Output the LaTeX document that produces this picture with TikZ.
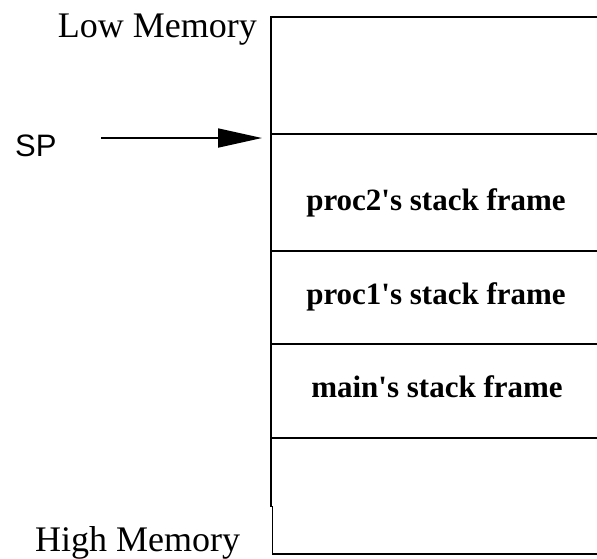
\documentclass[tikz,border=0pt]{standalone}
\usepackage{fontspec}
\setmainfont{Liberation Serif}
\newfontfamily\arialfont{Liberation Sans}
\usetikzlibrary{arrows.meta}
\tikzset{
  rule/.style={line width=1.6pt},
  memlabel/.style={font=\fontsize{36}{40}\selectfont, inner sep=0pt},
  framelabel/.style={font=\fontsize{31}{36}\selectfont\bfseries, inner sep=0pt, anchor=base},
  splabel/.style={font=\arialfont\fontsize{31}{36}\selectfont, inner sep=0pt, anchor=base west},
  sparrow/.style={line width=1.8pt, -{Triangle[length=44pt,width=19pt]}}
}
\begin{document}
\begin{tikzpicture}[x=1pt,y=-1pt]
\useasboundingbox (0,0) rectangle (597,558);
\clip (0,0) rectangle (597,558);
% horizontal rules
\draw[rule] (271,17) -- (600,17);
\draw[rule] (271,134) -- (600,134);
\draw[rule] (271,251) -- (600,251);
\draw[rule] (271,344) -- (600,344);
\draw[rule] (271,438) -- (600,438);
\draw[rule] (272,554) -- (600,554);
% left edge
\draw[rule] (271,16.2) -- (271,507);
\draw[line width=1pt] (272,506) -- (272,554.5);
% labels
\node[memlabel, anchor=base east] (low) at (257,37) {Low Memory};
\node[memlabel, anchor=base west] (high) at (35,551) {High Memory};
\node[splabel] (sp) at (15,156) {SP};
\node[framelabel] (p2) at (436,210) {proc2\textquotesingle s stack frame};
\node[framelabel] (p1) at (436,304) {proc1\textquotesingle s stack frame};
\node[framelabel] (mn) at (437,397) {main\textquotesingle s stack frame};
% arrow
\coordinate (spstart) at (101,138);
\coordinate (sptip) at (262,138);
\draw[sparrow] (spstart) -- (sptip);
\end{tikzpicture}
\end{document}
